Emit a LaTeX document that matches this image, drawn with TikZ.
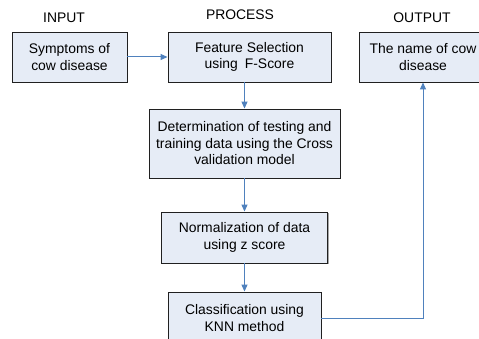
\documentclass[tikz,border=0pt]{standalone}
\usepackage{fontspec}
\setmainfont{Liberation Sans}
\usetikzlibrary{arrows.meta,shadows}
\definecolor{boxfill}{HTML}{E6ECF6}
\definecolor{arrowblue}{HTML}{4F81BD}
\definecolor{boxline}{HTML}{202020}
\tikzset{
  procbox/.style={draw=boxline, line width=0.9pt, fill=boxfill, inner sep=0pt, align=center,
    font=\fontsize{13.9}{16.5}\selectfont,
    drop shadow={shadow xshift=1pt, shadow yshift=-1pt, opacity=0.35, fill=black}},
  headlabel/.style={font=\fontsize{13.9}{16}\selectfont, inner sep=0pt},
  flow/.style={draw=arrowblue, line width=1pt, -{Triangle[length=7pt,width=6pt]}}
}
\begin{document}
\begin{tikzpicture}[x=1pt,y=-1pt]
\clip (0,0) rectangle (479,339);
\fill[white] (0,0) rectangle (479,339);
\node[headlabel] (lin) at (64,18) {INPUT};
\node[headlabel] (lpr) at (240,15) {PROCESS};
\node[headlabel] (lout) at (422,18) {OUTPUT};

\node[procbox, minimum width=115pt, minimum height=50pt] (sym) at (69.5,57) {Symptoms of\\cow disease};
\node[procbox, minimum width=163pt, minimum height=50pt] (fs) at (249.5,57) {Feature Selection\\using\enspace F-Score};
\node[procbox, minimum width=128pt, minimum height=50pt] (out) at (423,57) {The name of cow\\disease};
\node[procbox, minimum width=191pt, minimum height=69pt] (det) at (244.5,143.5) {Determination of testing and\\training data using the Cross\\validation model};
\node[procbox, minimum width=166pt, minimum height=51pt] (norm) at (244.5,237.5) {Normalization of data\\using z score};
\node[procbox, minimum width=153pt, minimum height=52pt] (cls) at (244.5,318) {Classification using\\KNN method};

\draw[flow] (sym.east) -- (fs.west);
\draw[flow] (det.north |- fs.south) -- (det.north);
\draw[flow] (det.south) -- (det.south |- norm.north);
\draw[flow] (norm.south -| cls.north) -- (cls.north);
\draw[flow] (cls.east) -- (cls.east -| out.south) -- (out.south);
\end{tikzpicture}
\end{document}
